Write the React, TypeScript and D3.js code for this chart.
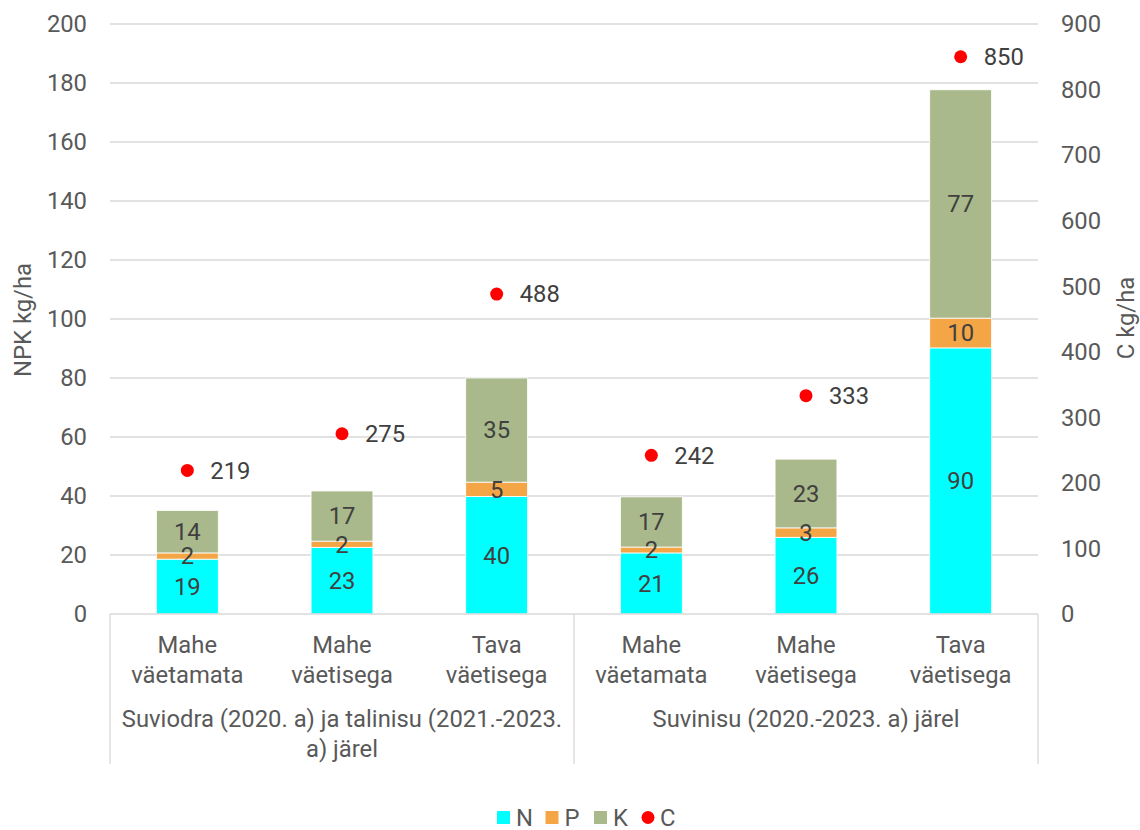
import React from "react";
import * as d3 from "d3";

const categories = [
  ["Mahe", "väetamata"],
  ["Mahe", "väetisega"],
  ["Tava", "väetisega"],
  ["Mahe", "väetamata"],
  ["Mahe", "väetisega"],
  ["Tava", "väetisega"],
];
const groups = [
  ["Suviodra (2020. a) ja talinisu (2021.-2023.", "a) järel"],
  ["Suvinisu (2020.-2023. a) järel"],
];
const nValues = [18.6, 22.6, 39.8, 20.7, 26.0, 90.2];
const pValues = [2.1, 2.1, 4.9, 2.0, 3.2, 10.1];
const kValues = [14.4, 17.0, 35.3, 17.0, 23.3, 77.4];
const cValues = [219, 275, 488, 242, 333, 850];
const leftTicks = [0, 20, 40, 60, 80, 100, 120, 140, 160, 180, 200];
const rightTicks = [0, 100, 200, 300, 400, 500, 600, 700, 800, 900];

const series = [
  { key: "N", values: nValues, color: "#00FFFF" },
  { key: "P", values: pValues, color: "#F4A646" },
  { key: "K", values: kValues, color: "#A9B98B" },
];

const width = 1140;
const height = 830;
const margin = { left: 110, right: 102, top: 24, bottom: 216 };
const font = "Roboto, 'Noto Sans', sans-serif";
const fs = 23.8;
const axisColor = "#595959";
const labelColor = "#404040";
const gridColor = "#d9d9d9";

export default function App() {
  const plotW = width - margin.left - margin.right;
  const plotH = height - margin.top - margin.bottom;
  const x0 = margin.left;
  const y0 = margin.top;
  const yBase = y0 + plotH;

  const xScale = d3
    .scaleBand<number>()
    .domain(d3.range(categories.length))
    .range([x0, x0 + plotW])
    .paddingInner(0.6)
    .paddingOuter(0.3);
  const yLeft = d3.scaleLinear().domain([0, 200]).range([yBase, y0]);
  const yRight = d3.scaleLinear().domain([0, 900]).range([yBase, y0]);

  const rows = categories.map((_, i) => ({
    i,
    N: nValues[i],
    P: pValues[i],
    K: kValues[i],
  }));
  const stacked = d3.stack<any>().keys(series.map((s) => s.key))(rows);
  const fmt = d3.format(".0f");
  const bw = xScale.bandwidth();
  const groupMid = x0 + plotW / 2;

  return (
    <svg
      width={width}
      height={height}
      style={{ position: "absolute", left: 0, top: 0, background: "#fff" }}
      fontFamily={font}
    >
      {leftTicks.map((t) => (
        <g key={"l" + t}>
          {t > 0 && (
            <line x1={x0} x2={x0 + plotW} y1={yLeft(t)} y2={yLeft(t)} stroke={gridColor} strokeWidth={1.3} />
          )}
          <text x={87} y={yLeft(t)} dy="0.35em" textAnchor="end" fontSize={fs} fill={axisColor}>
            {t}
          </text>
        </g>
      ))}
      {rightTicks.map((t) => (
        <text key={"r" + t} x={1061} y={yRight(t)} dy="0.35em" textAnchor="start" fontSize={fs} fill={axisColor}>
          {t}
        </text>
      ))}

      {stacked.map((layer, si) =>
        layer.map((d, i) => (
          <rect
            key={series[si].key + i}
            x={xScale(i)!}
            y={yLeft(d[1])}
            width={bw}
            height={yLeft(d[0]) - yLeft(d[1])}
            fill={series[si].color}
            stroke="#fff"
            strokeWidth={0.8}
          />
        ))
      )}
      {stacked.map((layer, si) =>
        layer.map((d, i) => (
          <text
            key={"t" + series[si].key + i}
            x={xScale(i)! + bw / 2}
            y={(yLeft(d[0]) + yLeft(d[1])) / 2}
            dy="0.35em"
            textAnchor="middle"
            fontSize={fs}
            fill={labelColor}
          >
            {fmt(series[si].values[i])}
          </text>
        ))
      )}

      {cValues.map((c, i) => (
        <g key={"c" + i}>
          <circle cx={xScale(i)! + bw / 2} cy={yRight(c)} r={6.5} fill="#FF0000" />
          <text x={xScale(i)! + bw / 2 + 23} y={yRight(c)} dy="0.35em" fontSize={fs} fill={labelColor}>
            {c}
          </text>
        </g>
      ))}

      {/* category axis */}
      <line x1={x0} x2={x0 + plotW} y1={yBase} y2={yBase} stroke={gridColor} strokeWidth={1.3} />
      {[x0, groupMid, x0 + plotW].map((xv, i) => (
        <line key={"v" + i} x1={xv} x2={xv} y1={yBase} y2={764} stroke={gridColor} strokeWidth={1.3} />
      ))}
      {categories.map((lines, i) => (
        <text key={"cat" + i} x={xScale(i)! + bw / 2} textAnchor="middle" fontSize={fs} fill={axisColor}>
          {lines.map((l, j) => (
            <tspan key={j} x={xScale(i)! + bw / 2} y={653 + j * 30}>
              {l}
            </tspan>
          ))}
        </text>
      ))}
      {groups.map((lines, g) => {
        const cx = g === 0 ? (x0 + groupMid) / 2 : (groupMid + x0 + plotW) / 2;
        return (
          <text key={"g" + g} textAnchor="middle" fontSize={fs} fill={axisColor}>
            {lines.map((l, j) => (
              <tspan key={j} x={cx} y={727 + j * 30}>
                {l}
              </tspan>
            ))}
          </text>
        );
      })}

      {/* axis titles */}
      <text transform="translate(31,320) rotate(-90)" textAnchor="middle" fontSize={fs} fill={axisColor}>
        NPK kg/ha
      </text>
      <text transform="translate(1134,318) rotate(-90)" textAnchor="middle" fontSize={fs} fill={axisColor}>
        C kg/ha
      </text>

      {/* legend */}
      <g fontSize={fs} fill={axisColor}>
        {series.map((s, i) => {
          const lx = 497 + i * 48.5;
          return (
            <g key={"lg" + s.key}>
              <rect x={lx} y={811} width={13} height={13} fill={s.color} />
              <text x={lx + 19} y={817.5} dy="0.35em">
                {s.key}
              </text>
            </g>
          );
        })}
        <circle cx={648} cy={817.5} r={6.5} fill="#FF0000" />
        <text x={660} y={817.5} dy="0.35em">
          C
        </text>
      </g>
    </svg>
  );
}
